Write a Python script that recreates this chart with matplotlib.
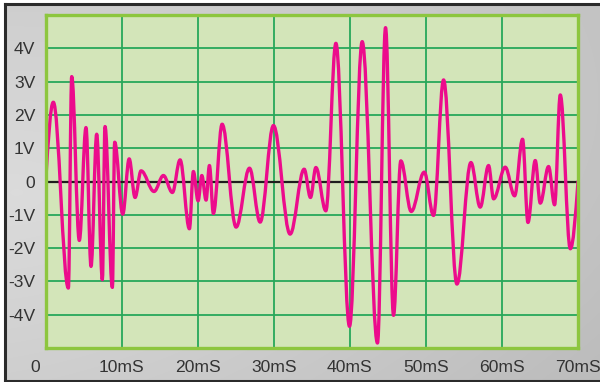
import numpy as np
import matplotlib
matplotlib.use("Agg")
import matplotlib.pyplot as plt
from matplotlib.path import Path
from matplotlib.patches import PathPatch
from matplotlib.lines import Line2D
from matplotlib.transforms import ScaledTranslation

# Waveform turning points: time (ms) and voltage (V)
times = [0.0, 1.0, 2.98, 3.42, 4.42, 5.3, 5.96, 6.71, 7.45, 7.8, 8.77, 9.07,
         10.13, 10.98, 11.75, 12.54, 14.25, 15.48, 16.66, 17.67, 18.9, 19.42,
         20.04, 20.53, 21.09, 21.53, 22.05, 23.2, 25.04, 26.8, 28.2, 29.95,
         32.14, 33.99, 34.82, 35.53, 36.84, 38.16, 39.95, 41.62, 43.63, 44.69,
         45.74, 46.7, 48.07, 49.78, 51.0, 52.32, 54.08, 55.92, 57.14, 58.24,
         58.9, 60.43, 61.66, 62.71, 63.42, 64.38, 65.04, 66.13, 66.92, 67.67,
         68.99, 70.0]
volts = [0.0, 2.38, -3.2, 3.15, -1.77, 1.62, -2.55, 1.42, -2.95, 1.65, -3.18,
         1.18, -0.98, 0.68, -0.48, 0.32, -0.3, 0.18, -0.33, 0.65, -1.42, 0.3,
         -0.58, 0.18, -0.56, 0.48, -0.96, 1.72, -1.37, 0.4, -1.22, 1.68, -1.58,
         0.37, -0.48, 0.42, -0.88, 4.15, -4.35, 4.2, -4.85, 4.62, -4.02, 0.62,
         -0.9, 0.28, -1.02, 3.05, -3.08, 0.57, -0.77, 0.48, -0.52, 0.43, -0.43,
         1.27, -1.23, 0.63, -0.65, 0.45, -0.7, 2.6, -2.02, 0.0]

y_ticks = [-4, -3, -2, -1, 0, 1, 2, 3, 4]
y_labels = ["-4V", "-3V", "-2V", "-1V", "0", "1V", "2V", "3V", "4V"]
x_ticks = [0, 10, 20, 30, 40, 50, 60, 70]
x_labels = ["0", "10mS", "20mS", "30mS", "40mS", "50mS", "60mS", "70mS"]

W, H = 600, 382
fig = plt.figure(figsize=(W / 100, H / 100), dpi=100, facecolor="white")

# Grey gradient panel behind the scope screen
bg = fig.add_axes([5 / W, 1 - 381 / H, 1 - 5 / W, (381 - 4) / H])
bg.set_axis_off()
gy, gx = np.mgrid[0:1:200j, 0:1:300j]
shade = 0.86 - 0.09 * np.sqrt(((gx - 0.02) / 1.1) ** 2 + ((gy - 0.5) / 0.9) ** 2)
shade = shade - 0.03 * gy * gx
bg.imshow(np.dstack([shade] * 3), aspect="auto", extent=[0, 1, 0, 1],
          interpolation="bicubic")
bg.set_xlim(0, 1)
bg.set_ylim(0, 1)

# Dark frame edges (top, left, bottom)
frame_kw = dict(color="#2b2b2b", lw=2.2, transform=fig.transFigure)
fig.add_artist(Line2D([5 / W, 1], [1 - 4 / H, 1 - 4 / H], **frame_kw))
fig.add_artist(Line2D([5 / W, 5 / W], [1 - 4 / H, 1 - 381 / H], **frame_kw))
fig.add_artist(Line2D([5 / W, 1], [1 - 381 / H, 1 - 381 / H], **frame_kw))

ax = fig.add_axes([45.7 / W, 1 - 348 / H, (578 - 45.7) / W, (348 - 15) / H])
ax.set_facecolor("#d3e5b9")
ax.set_xlim(0, 70)
ax.set_ylim(-5, 5)

grid_c = "#27a85a"
for t in x_ticks[1:-1]:
    ax.axvline(t, color=grid_c, lw=1.3, zorder=1)
for v in y_ticks:
    if v != 0:
        ax.axhline(v, color=grid_c, lw=1.3, zorder=1)
ax.axhline(0, color="#1e1e1e", lw=1.6, zorder=2)

# Smooth trace: cubic segments with flat tangents at each turning point
k = 0.363
verts = [(times[0], volts[0])]
codes = [Path.MOVETO]
n = len(times)
for i in range(n - 1):
    t0, v0 = times[i], volts[i]
    t1, v1 = times[i + 1], volts[i + 1]
    dt, dv = t1 - t0, v1 - v0
    if i == 0:
        c1 = (t0 + 0.33 * dt, v0 + 0.52 * dv)
    else:
        c1 = (t0 + k * dt, v0)
    if i == n - 2:
        c2 = (t1 - 0.33 * dt, v1 - 0.52 * dv)
    else:
        c2 = (t1 - k * dt, v1)
    verts += [c1, c2, (t1, v1)]
    codes += [Path.CURVE4] * 3
trace = PathPatch(Path(verts, codes), fill=False, edgecolor="#ec0c8c",
                  lw=2.4, zorder=3, capstyle="round", joinstyle="round")
ax.add_patch(trace)

for s in ax.spines.values():
    s.set_color("#8dc63f")
    s.set_linewidth(2.4)
    s.set_zorder(4)

font = dict(family=["Liberation Sans", "DejaVu Sans"], size=12.6, color="#333333")
ax.set_yticks(y_ticks)
ax.set_yticklabels(y_labels, **font)
ax.set_xticks(x_ticks)
ax.set_xticklabels(x_labels, **font)
ax.tick_params(length=0)
ax.tick_params(axis="y", pad=7.5)
ax.tick_params(axis="x", pad=8.5)
zero_lbl = ax.get_xticklabels()[0]
zero_lbl.set_transform(zero_lbl.get_transform() +
                       ScaledTranslation(-0.105, 0, fig.dpi_scale_trans))

fig.savefig("out.png", dpi=100, facecolor="white")
